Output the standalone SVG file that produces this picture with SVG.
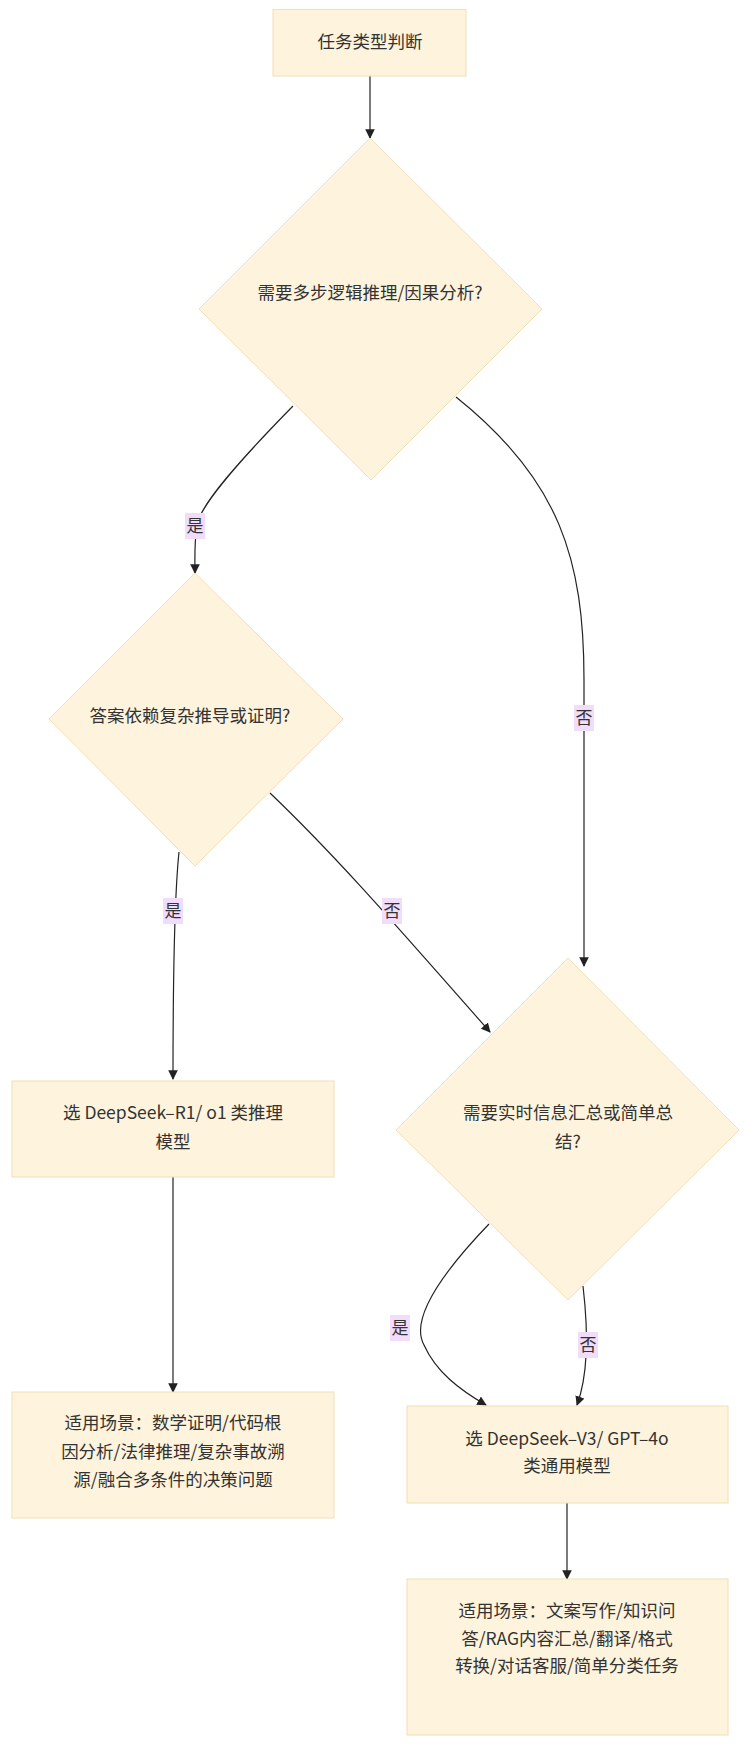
<svg xmlns="http://www.w3.org/2000/svg" width="744" height="1748" viewBox="0 0 744 1748">
<style>
.n{fill:#fef3dc;stroke:#f1e0b8;stroke-width:1}
.t{font-family:"Noto Sans CJK SC","Liberation Sans",sans-serif;font-size:17.5px;fill:#333;text-anchor:middle}
.e{fill:none;stroke:#222;stroke-width:1.2;marker-end:url(#a)}
.lb{fill:#f1dcfc}
.lt{font-family:"Noto Sans CJK SC","Liberation Sans",sans-serif;font-size:17px;fill:#333;text-anchor:middle}
</style>
<defs><marker id="a" viewBox="0 0 10 10" refX="9" refY="5" markerWidth="8" markerHeight="8" orient="auto"><path d="M0,0L10,5L0,10z" fill="#222"/></marker></defs>
<g id="edges">
<path class="e" d="M370,76V138"/>
<path class="e" d="M293,406C240,460 200,505 197,525C194,545 195,560 195,573"/>
<path class="e" d="M456,397C560,480 584,560 584,680V966"/>
<path class="e" d="M179,852C174,900 173,980 173,1079"/>
<path class="e" d="M270,793C340,860 400,930 490,1032"/>
<path class="e" d="M173,1177V1392"/>
<path class="e" d="M489,1224C440,1275 410,1320 424,1345C436,1372 460,1390 486,1405"/>
<path class="e" d="M583,1286C587,1320 590,1370 577,1405"/>
<path class="e" d="M567,1503V1579"/>
</g>
<g id="elabels">
<rect class="lb" x="185" y="513" width="20" height="26"/><text class="lt" x="195" y="532">是</text>
<rect class="lb" x="574" y="705" width="20" height="26"/><text class="lt" x="584" y="724">否</text>
<rect class="lb" x="163" y="898" width="20" height="26"/><text class="lt" x="173" y="917">是</text>
<rect class="lb" x="382" y="898" width="20" height="26"/><text class="lt" x="392" y="917">否</text>
<rect class="lb" x="390" y="1315" width="20" height="26"/><text class="lt" x="400" y="1334">是</text>
<rect class="lb" x="578" y="1332" width="20" height="26"/><text class="lt" x="588" y="1351">否</text>
</g>
<g id="n1"><rect class="n" x="273" y="9.5" width="193" height="66.5"/><text class="t" x="370" y="48">任务类型判断</text></g>
<g id="n2"><polygon class="n" points="370,138 542,309 371,480 199,309"/><text class="t" x="370" y="299">需要多步逻辑推理/因果分析?</text></g>
<g id="n3"><polygon class="n" points="195,573 343,719 195,866 49,719"/><text class="t" x="190" y="722">答案依赖复杂推导或证明?</text></g>
<g id="n4"><polygon class="n" points="568,958 739,1130 568,1300 396,1130"/><text class="t" x="568" y="1119">需要实时信息汇总或简单总</text><text class="t" x="568" y="1148">结?</text></g>
<g id="n5"><rect class="n" x="12" y="1081" width="322" height="96"/><text class="t" x="173" y="1119">选 DeepSeek–R1/ o1 类推理</text><text class="t" x="173" y="1148">模型</text></g>
<g id="n6"><rect class="n" x="12" y="1392" width="322" height="126"/><text class="t" x="173" y="1429">适用场景：数学证明/代码根</text><text class="t" x="173" y="1458">因分析/法律推理/复杂事故溯</text><text class="t" x="173" y="1486">源/融合多条件的决策问题</text></g>
<g id="n7"><rect class="n" x="407" y="1406" width="321" height="97"/><text class="t" x="567" y="1445">选 DeepSeek–V3/ GPT–4o</text><text class="t" x="567" y="1472">类通用模型</text></g>
<g id="n8"><rect class="n" x="407" y="1579" width="321" height="156"/><text class="t" x="567" y="1617">适用场景：文案写作/知识问</text><text class="t" x="567" y="1645">答/RAG内容汇总/翻译/格式</text><text class="t" x="567" y="1672">转换/对话客服/简单分类任务</text></g>
</svg>
